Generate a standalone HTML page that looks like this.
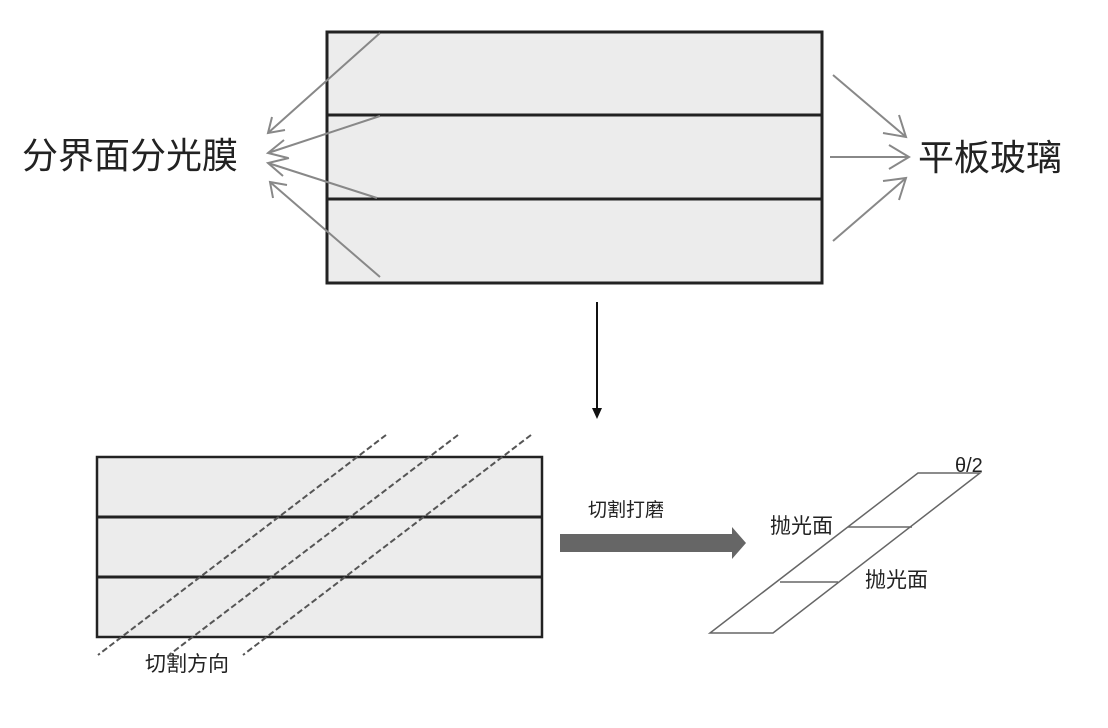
<!DOCTYPE html>
<html><head><meta charset="utf-8"><style>
html,body{margin:0;padding:0;background:#fff;}
svg{display:block}
text{font-family:"Liberation Sans","Noto Sans CJK SC",sans-serif;fill:#222}
</style></head><body>
<svg width="1108" height="728" viewBox="0 0 1108 728" xmlns="http://www.w3.org/2000/svg">
<rect x="0" y="0" width="1108" height="728" fill="#fff"/>
<!-- top block -->
<rect x="327" y="32" width="495" height="251" fill="#ececec" stroke="#222" stroke-width="3"/>
<line x1="327" y1="115" x2="822" y2="115" stroke="#222" stroke-width="3"/>
<line x1="327" y1="199" x2="822" y2="199" stroke="#222" stroke-width="3"/>
<g stroke="#888" stroke-width="2" fill="none">
<line x1="380" y1="33" x2="268" y2="133"/>
<polyline points="272,117 268,133 285,130"/>
<line x1="380" y1="116" x2="268" y2="153"/>
<polyline points="284,140 268,153 288,158"/>
<line x1="377" y1="198" x2="268" y2="163"/>
<polyline points="289,158 268,163 283,176"/>
<line x1="380" y1="277" x2="270" y2="182"/>
<polyline points="273,198 270,182 287,185"/>
<line x1="833" y1="75" x2="906" y2="137"/>
<polyline points="899,115 906,137 883,133"/>
<line x1="830" y1="157" x2="909" y2="157"/>
<polyline points="889,145 909,157 889,169"/>
<line x1="833" y1="241" x2="906" y2="178"/>
<polyline points="883,181 906,178 899,200"/>
</g>
<text x="22" y="168" font-size="36">分界面分光膜</text>
<text x="918" y="170" font-size="36">平板玻璃</text>
<!-- vertical arrow -->
<line x1="597" y1="302" x2="597" y2="410" stroke="#111" stroke-width="2"/>
<polygon points="592,408 602,408 597,419" fill="#111"/>
<!-- bottom block -->
<rect x="97" y="457" width="445" height="180" fill="#ececec" stroke="#222" stroke-width="2.5"/>
<line x1="97" y1="517" x2="542" y2="517" stroke="#222" stroke-width="3"/>
<line x1="97" y1="577" x2="542" y2="577" stroke="#222" stroke-width="3"/>
<g stroke="#555" stroke-width="2" stroke-dasharray="6,3">
<line x1="386" y1="435" x2="98" y2="655"/>
<line x1="458" y1="435" x2="169" y2="655"/>
<line x1="531" y1="435" x2="243" y2="655"/>
</g>
<text x="145" y="671" font-size="21">切割方向</text>
<!-- grey arrow -->
<polygon points="560,534 732,534 732,527 746,543 732,559 732,552 560,552" fill="#666"/>
<text x="588" y="516" font-size="19">切割打磨</text>
<!-- parallelogram -->
<g stroke="#666" stroke-width="1.5" fill="none">
<polygon points="918,473 980,473 773,633 710,633"/>
<line x1="848" y1="527" x2="912" y2="527"/>
<line x1="780" y1="582" x2="838" y2="582"/>
</g>
<text x="770" y="533" font-size="21">抛光面</text>
<text x="865" y="587" font-size="21">抛光面</text>
<text x="955" y="472" font-size="20">θ/2</text>
</svg>
</body></html>
